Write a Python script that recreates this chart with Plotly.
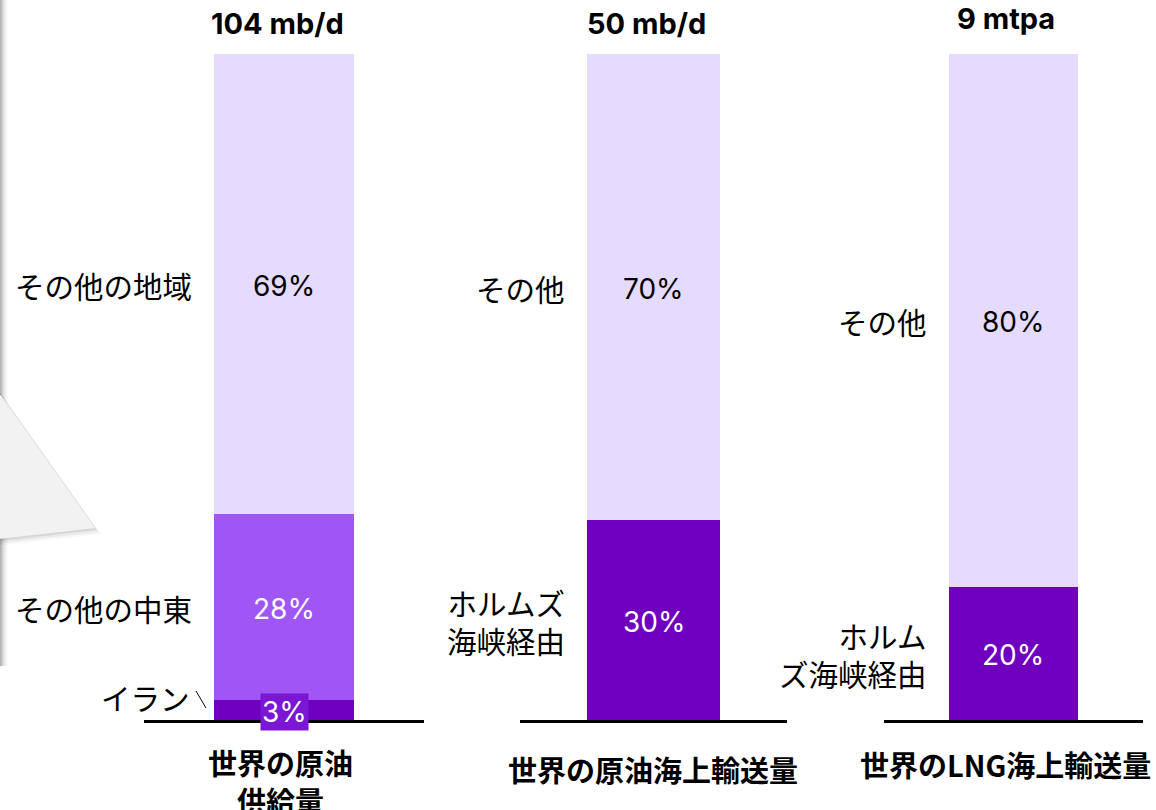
import plotly.graph_objects as go

# ---------------- data ----------------
categories = ["世界の原油<br>供給量", "世界の原油海上輸送量", "世界のLNG海上輸送量"]
totals = ["104 mb/d", "50 mb/d", "9 mtpa"]

crude_supply_labels = ["イラン", "その他の中東", "その他の地域"]
crude_supply_values = [3, 28, 69]

crude_seaborne_labels = ["ホルムズ<br>海峡経由", "その他"]
crude_seaborne_values = [30, 70]

lng_labels = ["ホルム<br>ズ海峡経由", "その他"]
lng_values = [20, 80]

# ---------------- style ----------------
DARK = "#7000C0"
MED = "#A055F5"
LIGHT = "#E4DBFF"
BOX = "#7B16D4"
W, H = 1156, 810
JP = "Noto Sans CJK JP"
LAT = "Inter, Noto Sans CJK JP"
BAR_W = 0.5


def px(x):
    return x / W


def py(y):
    return 1 - y / H


groups = [
    (crude_supply_labels, crude_supply_values, [DARK, MED, LIGHT], "x"),
    (crude_seaborne_labels, crude_seaborne_values, [DARK, LIGHT], "x2"),
    (lng_labels, lng_values, [DARK, LIGHT], "x3"),
]
domains = [(144, 424), (520, 787), (884, 1143)]

fig = go.Figure()
annotations = []
shapes = []

for gi, (labels, values, colors, xa) in enumerate(groups):
    cat = categories[gi]
    base = 0
    for si, (lab, val, col) in enumerate(zip(labels, values, colors)):
        fig.add_trace(go.Bar(
            x=[cat], y=[val], xaxis=xa, yaxis="y", width=BAR_W,
            marker=dict(color=col, line=dict(width=0)),
            hoverinfo="skip", showlegend=False,
        ))
        mid = base + val / 2
        txtcol = "black" if col == LIGHT else "white"
        is_small = val < 8
        annotations.append(dict(
            x=0, y=mid, xref=xa, yref="y", text=f"{val}%", showarrow=False,
            font=dict(family=LAT, size=28, color=txtcol),
            xanchor="center", yanchor="middle",
            bgcolor=BOX if is_small else None,
            borderpad=1,
            yshift=-2,
        ))
        annotations.append(dict(
            x=-BAR_W / 2, y=mid, xref=xa, yref="y", text=lab, showarrow=False,
            font=dict(family=JP, size=29.5, color="black"),
            xanchor="right", yanchor="middle", align="right",
            xshift=-20 if not is_small else -22,
            yshift=13 if is_small else -1,
        ))
        if is_small:
            shapes.append(dict(
                type="line", xref=xa, yref="y", xsizemode="pixel", ysizemode="pixel",
                xanchor=-BAR_W / 2, yanchor=mid, x0=-18, x1=-8, y0=19, y1=2,
                line=dict(color="black", width=1),
            ))
        base += val
    # total on top
    annotations.append(dict(
        x=0, y=base, xref=xa, yref="y", text=f"<b>{totals[gi]}</b>", showarrow=False,
        font=dict(family=LAT, size=29, color="black", weight=800),
        xanchor="center", yanchor="bottom", xshift=-7, yshift=11 if gi < 2 else 16,
    ))

# category titles
cat_tops = [739, 746, 741]
cat_shift = [-4, -1, -8]
for gi, cat in enumerate(categories):
    xa = ["x", "x2", "x3"][gi]
    annotations.append(dict(
        x=0, y=py(cat_tops[gi]), xref=xa, yref="paper", text=f"<b>{cat}</b>",
        showarrow=False, font=dict(family=JP, size=29, color="black"),
        xanchor="center", yanchor="top", xshift=cat_shift[gi],
    ))

# ---------------- callout decoration (left edge) ----------------
deco = []
alphas = [0.30, 0.24, 0.18, 0.13, 0.09, 0.06, 0.035, 0.015]
for i, a in enumerate(alphas):
    deco.append(dict(type="rect", xref="paper", yref="paper",
                     x0=px(i), x1=px(i + 1), y0=py(666), y1=py(-5),
                     fillcolor=f"rgba(0,0,0,{a})", line=dict(width=0), layer="below"))


def tri_path(dx, dy):
    pts = [(-20, 366), (95, 528), (-20, 541)]
    return "M " + " L ".join(f"{px(x + dx)},{py(y + dy)}" for x, y in pts) + " Z"


for d, a in [(6, 0.03), (4, 0.05), (2, 0.08)]:
    deco.append(dict(type="path", xref="paper", yref="paper", path=tri_path(d, d),
                     fillcolor=f"rgba(0,0,0,{a})", line=dict(width=0), layer="below"))
deco.append(dict(type="path", xref="paper", yref="paper", path=tri_path(0, 0),
                 fillcolor="#F2F2F2", line=dict(width=0), layer="below"))

fig.update_layout(
    width=W, height=H,
    margin=dict(l=0, r=0, t=0, b=0),
    paper_bgcolor="white", plot_bgcolor="rgba(0,0,0,0)",
    barmode="stack",
    showlegend=False,
    annotations=annotations,
    shapes=deco + shapes,
    yaxis=dict(domain=[py(720), py(54)], range=[0, 100], visible=False, fixedrange=True),
)
axis_common = dict(showline=True, linecolor="black", linewidth=3, showticklabels=False,
                   ticks="", showgrid=False, zeroline=False, fixedrange=True, anchor="y",
                   range=[-0.5, 0.5], autorange=False)
fig.update_layout(
    xaxis=dict(domain=[px(domains[0][0]), px(domains[0][1])], **axis_common),
    xaxis2=dict(domain=[px(domains[1][0]), px(domains[1][1])], **axis_common),
    xaxis3=dict(domain=[px(domains[2][0]), px(domains[2][1])], **axis_common),
)

fig.write_html("out.html", config={"displayModeBar": False})
